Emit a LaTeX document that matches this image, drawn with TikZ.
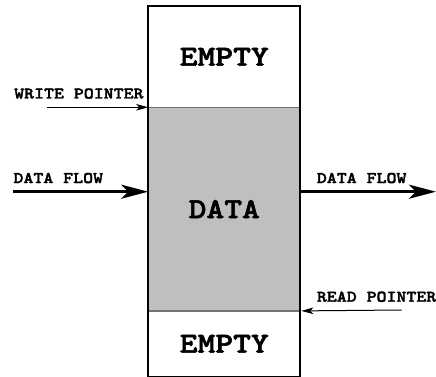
\documentclass[tikz,border=0pt]{standalone}
\usepackage{fontspec}
\newfontfamily\fifofont[FakeStretch=1.17,FakeBold=2]{lmmonolt10-bold.otf}
\usetikzlibrary{arrows.meta,positioning}

\begin{document}
\begin{tikzpicture}[x=1pt,y=-1pt,
	cell/.style={draw=black!55, line width=.6pt, minimum width=151.5pt, inner sep=0pt, font=\fifofont\fontsize{29pt}{29pt}\selectfont},
	lbl/.style={anchor=base west, inner sep=0pt, font=\fifofont\fontsize{16.2pt}{16.2pt}\selectfont},
	flow/.style={line width=3.2pt, -{Stealth[length=27pt,width=14pt,inset=7pt]}},
	ptr/.style={line width=1pt, -{Stealth[length=12pt,width=6.5pt,inset=3pt]}}]
	\useasboundingbox (0,0) rectangle (436,377);
	\clip (0,0) rectangle (436,377);
		\node[cell, minimum height=100.5pt] (top) at (224.25,56.75) {EMPTY};
		\node[cell, minimum height=203pt, fill=black!25, below=0pt of top] (data) {DATA};
		\node[cell, minimum height=65pt, below=0pt of data] (bot) {EMPTY};
		\draw[line width=2pt] (top.north west) rectangle (bot.south east);
		\coordinate (wp) at (47,107.3);
		\coordinate (rp) at (401.7,310);
		\coordinate (inflow) at (13.3,191.7);
		\coordinate (outflow) at (436,191.7);
		\node[lbl] (wplbl) at (14,98.5) {WRITE POINTER};
		\node[lbl] (inlbl) at (13.3,183) {DATA FLOW};
		\node[lbl] (outlbl) at (316.7,183) {DATA FLOW};
		\node[lbl] (rplbl) at (316.7,301.7) {READ POINTER};
		\draw[ptr] (wp) -- (data.north west);
		\draw[ptr] (rp) -- ([xshift=1pt]data.south east);
		\draw[flow] (inflow) -- (inflow -| data.west);
		\draw[flow] (outflow -| data.east) -- (outflow);
\end{tikzpicture}
\end{document}
